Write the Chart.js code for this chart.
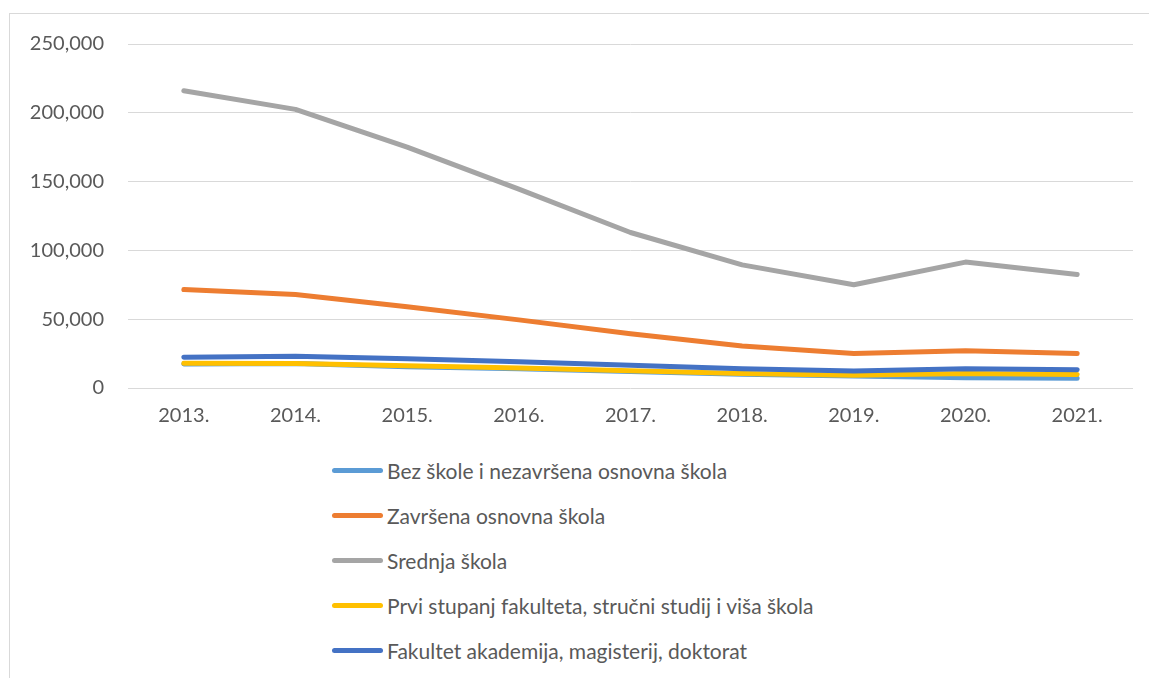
<!DOCTYPE html>
<html>
<head>
<meta charset="utf-8">
<script src="https://cdn.jsdelivr.net/npm/chart.js@4"></script>
<style>
  html, body { margin: 0; padding: 0; background: #fff; overflow: hidden; }
  body { width: 1149px; height: 678px; position: relative; font-family: Lato, sans-serif; }
  #frame { position: absolute; left: 9px; top: 13px; width: 1200px; height: 720px; border: 1px solid #d9d9d9; }
  #wrap { position: absolute; left: 0; top: 0; width: 1149px; height: 440px; }
  #legend { position: absolute; left: 332px; top: 462px; }
  .item { height: 45px; display: flex; align-items: center; font-size: 21px; color: #595959; margin-top: -14px; margin-bottom: 14px; }
  .swatch { width: 51px; height: 5px; border-radius: 3px; margin-right: 4px; }
</style>
</head>
<body>
<div id="frame"></div>
<div id="wrap"><canvas id="lineChart"></canvas></div>
<div id="legend"></div>
<script>
const years = ['2013.', '2014.', '2015.', '2016.', '2017.', '2018.', '2019.', '2020.', '2021.'];

const bezSkole    = [17500, 17800, 15500, 14000, 12000, 10000, 8700, 7500, 7000];
const osnovna     = [71500, 68000, 59000, 49500, 39500, 30500, 25000, 27000, 25000];
const srednja     = [216000, 202500, 175000, 144500, 113000, 89500, 75000, 91500, 82500];
const prviStupanj = [18000, 17800, 16200, 14500, 12500, 10500, 9300, 10500, 9800];
const fakultet    = [22400, 23000, 21300, 19000, 16500, 14000, 12300, 14000, 13200];

const seriesNames = [
    'Bez škole i nezavršena osnovna škola',
    'Završena osnovna škola',
    'Srednja škola',
    'Prvi stupanj fakulteta, stručni studij i viša škola',
    'Fakultet akademija, magisterij, doktorat'
];
const seriesColors = ['#5B9BD5', '#ED7D31', '#A5A5A5', '#FFC000', '#4472C4'];
const seriesData = [bezSkole, osnovna, srednja, prviStupanj, fakultet];

const ctx = document.getElementById('lineChart').getContext('2d');

// later series drawn on top, like Excel
const datasets = seriesNames.map((name, i) => ({
    label: name,
    data: seriesData[i],
    borderColor: seriesColors[i],
    backgroundColor: seriesColors[i],
    borderWidth: 5,
    borderCapStyle: 'round',
    borderJoinStyle: 'round',
    pointRadius: 0,
    tension: 0,
    fill: false,
    order: seriesNames.length - i
}));

const chart = new Chart(ctx, {
    type: 'line',
    data: { labels: years, datasets: datasets },
    options: {
        responsive: true,
        maintainAspectRatio: false,
        animation: false,
        layout: { padding: { top: 44, right: 16, left: 0, bottom: 0 } },
        plugins: {
            legend: { display: false },
            tooltip: { enabled: false }
        },
        scales: {
            x: {
                offset: true,
                grid: { display: false, drawTicks: false },
                border: { display: false },
                ticks: { color: '#595959', font: { family: 'Lato', size: 20 }, padding: 16, maxRotation: 0 },
                afterFit: (s) => { s.height = 52; }
            },
            y: {
                min: 0,
                max: 250000,
                grid: { color: '#d9d9d9', lineWidth: 1, drawTicks: false },
                border: { display: false },
                ticks: {
                    stepSize: 50000,
                    color: '#595959',
                    font: { family: 'Lato', size: 20 },
                    padding: 24,
                    callback: (v) => v.toLocaleString('en-US')
                },
                afterFit: (s) => { s.width = 128; }
            }
        }
    }
});

// legend as a vertical list, built from the chart datasets
const legendEl = document.getElementById('legend');
chart.data.datasets.forEach(ds => {
    const row = document.createElement('div');
    row.className = 'item';
    const sw = document.createElement('div');
    sw.className = 'swatch';
    sw.style.background = ds.borderColor;
    const txt = document.createElement('span');
    txt.textContent = ds.label;
    row.appendChild(sw);
    row.appendChild(txt);
    legendEl.appendChild(row);
});
</script>
</body>
</html>
